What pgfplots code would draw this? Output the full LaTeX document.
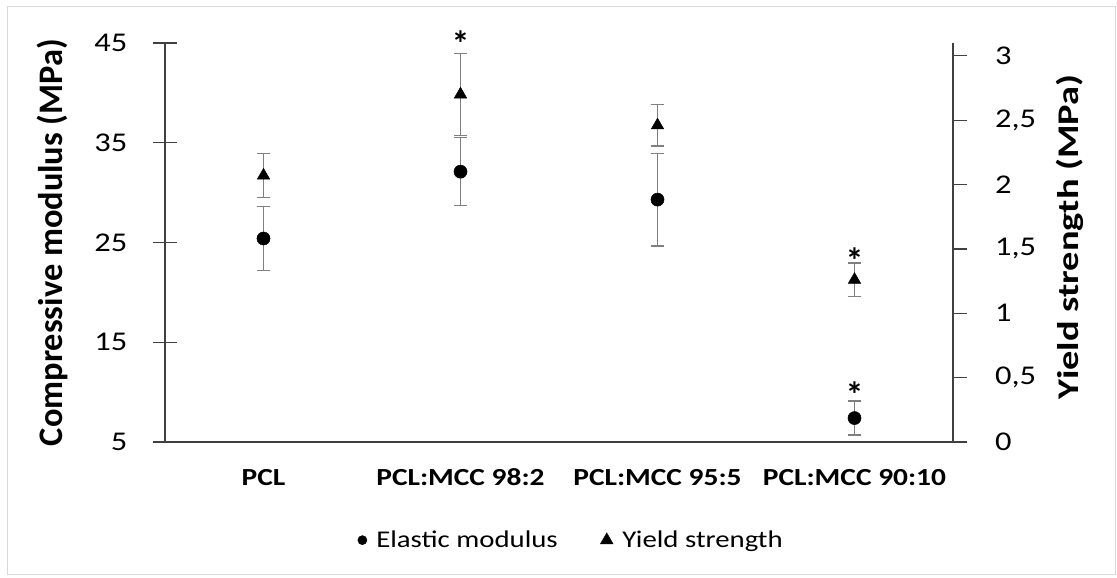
\documentclass[border=0pt]{standalone}
\usepackage{pgfplots}
\pgfplotsset{compat=1.18}
\usepackage{fontspec}
\setmainfont{Carlito}
\newfontfamily\wideA[FakeStretch=1.2]{Carlito}
\newfontfamily\wideB[FakeStretch=1.28]{Carlito}
\definecolor{errgray}{HTML}{7F7F7F}
\definecolor{axgray}{HTML}{404040}
\pgfplotstableread{
x y e
0 25.4 3.2
1 32.1 3.4
2 29.3 4.65
3 7.4 1.7
}\elastic
\pgfplotstableread{
x y e
0 2.07 0.17
1 2.70 0.32
2 2.46 0.16
3 1.26 0.13
}\yield
\begin{document}
\begin{tikzpicture}
\path[use as bounding box] (0,0) rectangle (837.75pt,433.5pt);
\draw[black!15, line width=0.75pt] (5.25pt,2.25pt) rectangle (836.25pt,428.25pt);
\begin{axis}[
  at={(123.75pt,102pt)}, anchor=south west, scale only axis,
  width=591pt, height=299.25pt,
  xmin=-0.5, xmax=3.5, ymin=5, ymax=45,
  ytick={5,15,25,35,45},
  xtick={0,1,2,3},
  xticklabels={PCL, PCL:MCC 98:2, PCL:MCC 95:5, PCL:MCC 90:10},
  xticklabel style={font=\wideA\bfseries\fontsize{18.4}{18.4}\selectfont, yshift=-8pt},
  yticklabel style={font=\wideA\fontsize{20.3}{20.3}\selectfont, xshift=-16pt},
  axis x line*=bottom, axis y line*=left,
  axis line style={-, axgray, line width=0.9pt},
  major x tick style={draw=none},
  major y tick style={axgray, line width=0.9pt},
  tick align=center, major tick length=17.5pt,
  ylabel={\bfseries Compressive modulus (MPa)},
  ylabel style={font=\fontsize{25.8}{25.8}\selectfont, at={(axis description cs:-0.1434,0.5)}, anchor=center},
  clip=false,
  /pgf/number format/assume math mode=true,
]
\addplot[only marks, mark=*, mark size=4.9pt, black,
  error bars/.cd, y dir=both, y explicit,
  error bar style={errgray, line width=1pt},
  error mark options={rotate=90, errgray, mark size=4.9pt, line width=1pt}]
  table[x=x, y=y, y error=e] {\elastic};
\node[font=\bfseries\fontsize{27}{27}\selectfont, inner sep=0pt, anchor=north] at (axis cs:3,11.07) {*};
\end{axis}
\begin{axis}[
  at={(123.75pt,102pt)}, anchor=south west, scale only axis,
  width=591pt, height=299.25pt,
  xmin=-0.5, xmax=3.5, ymin=0, ymax=3.1,
  ytick={0,0.5,1,1.5,2,2.5,3},
  axis y line*=right, axis x line=none,
  axis line style={-, axgray, line width=0.9pt},
  major y tick style={axgray, line width=0.9pt},
  tick align=outside, major tick length=10.5pt,
  yticklabel style={font=\wideA\fontsize{20.3}{20.3}\selectfont, xshift=17.5pt},
  /pgf/number format/.cd, use comma, fixed, assume math mode=true,
  /pgfplots/.cd,
  ylabel={\bfseries Yield strength (MPa)},
  ylabel style={font=\wideB\fontsize{22.5}{22.5}\selectfont, at={(axis description cs:1.1485,0.514)}, anchor=center},
  clip=false,
  legend columns=2,
  legend style={at={(0.516,-0.246)}, anchor=center, draw=none, fill=none,
    font=\wideA\fontsize{18}{18}\selectfont,
    /tikz/every odd column/.append style={column sep=5pt},
    /tikz/every even column/.append style={column sep=30pt}},
]
\addlegendimage{only marks, mark=*, mark size=3.4pt, black}
\addlegendentry{Elastic modulus}
\addplot[only marks, mark=triangle*, mark size=5.4pt, black,
  error bars/.cd, y dir=both, y explicit,
  error bar style={errgray, line width=1pt},
  error mark options={rotate=90, errgray, mark size=4.9pt, line width=1pt}]
  table[x=x, y=y, y error=e] {\yield};
\addlegendentry{Yield strength}
\node[font=\bfseries\fontsize{27}{27}\selectfont, inner sep=0pt, anchor=north] at (axis cs:1,3.195) {*};
\node[font=\bfseries\fontsize{27}{27}\selectfont, inner sep=0pt, anchor=north] at (axis cs:3,1.51) {*};
\end{axis}
\end{tikzpicture}
\end{document}
